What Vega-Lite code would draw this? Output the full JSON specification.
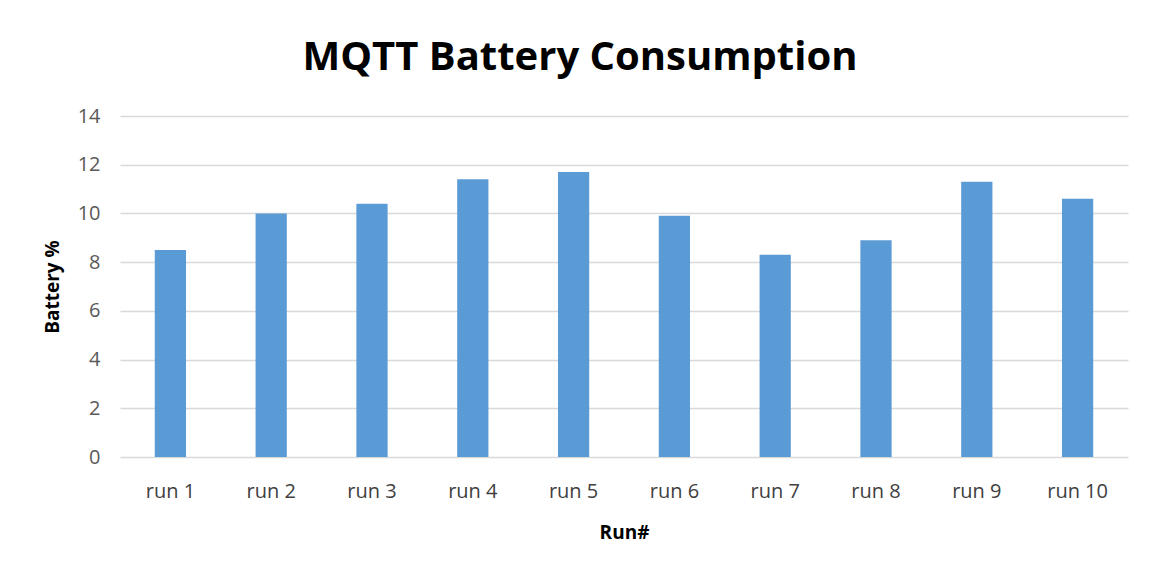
{
  "$schema": "https://vega.github.io/schema/vega-lite/v6.json",
  "autosize": "none",
  "width": 1008,
  "height": 341,
  "padding": {"left": 120, "top": 116, "right": 32, "bottom": 124},
  "background": "white",
  "title": {
    "text": "MQTT Battery Consumption",
    "font": "Open Sans",
    "fontSize": 40,
    "fontWeight": "bold",
    "color": "#000000",
    "anchor": "middle",
    "dx": -44,
    "offset": 28
  },
  "data": {
    "values": [
      {"run": "run 1", "battery": 8.5},
      {"run": "run 2", "battery": 10.0},
      {"run": "run 3", "battery": 10.4},
      {"run": "run 4", "battery": 11.4},
      {"run": "run 5", "battery": 11.7},
      {"run": "run 6", "battery": 9.9},
      {"run": "run 7", "battery": 8.3},
      {"run": "run 8", "battery": 8.9},
      {"run": "run 9", "battery": 11.3},
      {"run": "run 10", "battery": 10.6}
    ]
  },
  "mark": {"type": "bar", "color": "#5B9BD5"},
  "encoding": {
    "x": {
      "field": "run",
      "type": "nominal",
      "sort": null,
      "scale": {"paddingInner": 0.69, "paddingOuter": 0.345},
      "axis": {
        "title": "Run#",
        "labelAngle": 0,
        "labelFont": "Open Sans",
        "labelFontSize": 20,
        "labelColor": "#404040",
        "labelPadding": 24,
        "ticks": false,
        "domain": false,
        "titleFont": "Open Sans",
        "titleFontSize": 19,
        "titleFontWeight": "bold",
        "titleColor": "#000000",
        "titlePadding": 22
      }
    },
    "y": {
      "field": "battery",
      "type": "quantitative",
      "scale": {"domain": [0, 14]},
      "axis": {
        "title": "Battery %",
        "values": [0, 2, 4, 6, 8, 10, 12, 14],
        "labelFont": "Open Sans",
        "labelFontSize": 20,
        "labelColor": "#595959",
        "labelPadding": 20,
        "ticks": false,
        "domain": false,
        "gridColor": "#d9d9d9",
        "gridWidth": 1.5,
        "titleFont": "Open Sans",
        "titleFontSize": 19,
        "titleFontWeight": "bold",
        "titleColor": "#000000",
        "titlePadding": 15
      }
    }
  },
  "config": {"view": {"stroke": null}}
}
